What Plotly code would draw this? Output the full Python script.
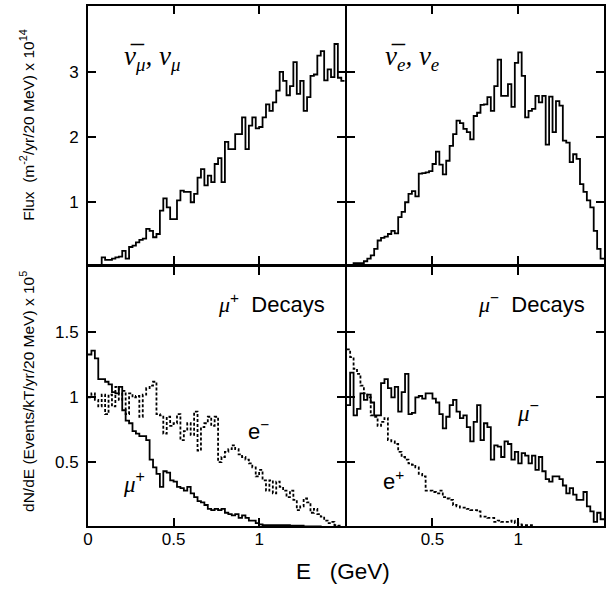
import plotly.graph_objects as go

# ---------------- data (20 MeV bins, 0 - 1.5 GeV) ----------------
bin_width = 0.02
n_bins = 75

numu_flux = [0.02,0.02,0.02,0.02,0.14,0.10,0.10,0.12,0.14,0.15,
             0.24,0.12,0.30,0.32,0.37,0.41,0.43,0.58,0.55,0.45,
             0.50,0.86,1.05,0.91,0.73,0.73,1.02,1.17,1.15,1.15,
             0.99,1.12,1.37,1.50,1.25,1.40,1.30,1.58,1.67,1.30,
             1.92,1.81,1.81,2.04,2.04,2.30,1.81,2.17,2.30,2.13,
             2.15,2.30,2.50,2.40,2.53,2.71,3.00,2.86,2.64,2.78,
             3.15,2.66,2.86,2.40,2.61,2.94,2.96,3.25,3.32,2.87,
             3.04,2.92,3.43,2.91,2.86]

nue_flux = [0.02,0.02,0.05,0.05,0.05,0.08,0.12,0.17,0.27,0.40,
            0.44,0.46,0.50,0.55,0.51,0.76,0.84,0.99,1.12,1.16,
            1.08,1.43,1.44,1.45,1.47,1.58,1.77,1.57,1.42,1.63,
            1.86,2.04,2.25,2.21,2.12,2.07,1.96,2.32,2.37,2.49,
            2.50,2.61,2.40,2.78,3.19,2.63,2.63,2.81,2.46,3.14,
            3.30,2.94,2.30,2.40,2.43,2.63,2.53,2.63,1.88,2.62,
            2.07,2.55,2.48,1.94,1.91,1.61,1.73,1.66,1.27,1.15,
            1.02,0.91,0.55,0.27,0.12]

mup_events = [1.33,1.36,1.30,1.14,1.14,1.12,1.10,1.04,1.03,1.08,
              0.90,0.82,0.80,0.74,0.72,0.70,0.70,0.67,0.52,0.46,
              0.41,0.31,0.43,0.42,0.36,0.35,0.31,0.30,0.28,0.31,
              0.26,0.23,0.20,0.19,0.17,0.14,0.13,0.14,0.13,0.14,
              0.11,0.10,0.09,0.10,0.07,0.09,0.07,0.05,0.05,0.03,
              0.02,0.015,0.015,0.015,0.015,0.015,0.015,0.015,0.015,0.01,
              0.01,0.01,0.01,0.005,0.005,0.005,0.005,0.005,0.0,0.0,
              0.0,0.0,0.0,0.0,0.0]

em_events = [1.00,1.03,0.98,0.93,1.02,0.87,1.02,0.93,1.08,0.98,
             1.05,0.87,1.03,1.00,1.01,0.85,1.02,1.07,1.09,1.12,
             0.87,0.86,0.72,0.85,0.78,0.80,0.87,0.67,0.74,0.80,
             0.71,0.89,0.59,0.77,0.80,0.85,0.78,0.85,0.50,0.54,
             0.58,0.60,0.63,0.60,0.56,0.54,0.52,0.49,0.46,0.39,
             0.44,0.36,0.28,0.36,0.26,0.35,0.31,0.28,0.23,0.28,
             0.21,0.13,0.16,0.22,0.19,0.11,0.14,0.10,0.08,0.05,
             0.03,0.04,0.015,0.01,0.0]

mum_events = [0.94,1.19,0.86,0.91,1.03,0.98,1.02,0.96,0.86,0.86,
              1.11,1.14,1.07,1.00,1.08,0.89,1.04,1.18,0.87,0.88,
              1.00,1.01,0.99,1.03,1.03,0.99,0.96,0.87,0.76,0.85,
              0.94,0.98,0.89,0.84,0.86,0.77,0.66,0.81,0.94,0.67,
              0.80,0.77,0.52,0.63,0.62,0.54,0.66,0.64,0.52,0.58,
              0.49,0.57,0.55,0.49,0.55,0.44,0.54,0.43,0.37,0.35,
              0.39,0.39,0.37,0.32,0.26,0.30,0.25,0.21,0.21,0.27,
              0.16,0.12,0.04,0.11,0.06]

ep_events = [1.37,1.31,1.22,1.18,1.09,1.03,1.00,0.86,0.85,0.78,
             0.81,0.84,0.67,0.66,0.64,0.58,0.54,0.52,0.49,0.48,
             0.46,0.41,0.39,0.28,0.28,0.27,0.26,0.28,0.23,0.22,
             0.21,0.17,0.16,0.15,0.15,0.14,0.13,0.13,0.12,0.08,
             0.08,0.07,0.07,0.04,0.05,0.04,0.04,0.04,0.05,0.03,
             0.02,0.015,0.015,0.015,0.0,0.0,0.0,0.0,0.0,0.0,
             0.0,0.0,0.0,0.0,0.0,0.0,0.0,0.0,0.0,0.0,
             0.0,0.0,0.0,0.0,0.0]

top_ticks = [1, 2, 3]
bottom_ticks = [0.5, 1, 1.5]
bottom_tick_text = ["0.5", "1", "1.5"]
x_ticks_left = [0, 0.5, 1]
x_tick_text_left = ["0", "0.5", "1"]
x_ticks_right = [0.5, 1]
x_tick_text_right = ["0.5", "1"]

edges = [i * bin_width for i in range(n_bins + 1)]


def step(vals):
    return list(vals) + [vals[-1]]


fig = go.Figure()

solid = dict(color="black", width=1.8)
dotted = dict(color="black", width=1.8, dash="3px,2px")

fig.add_trace(go.Scatter(x=edges, y=step(numu_flux), mode="lines", line_shape="hv",
                         line=solid, xaxis="x", yaxis="y", showlegend=False))
fig.add_trace(go.Scatter(x=edges, y=step(nue_flux), mode="lines", line_shape="hv",
                         line=solid, xaxis="x2", yaxis="y2", showlegend=False))
fig.add_trace(go.Scatter(x=edges, y=step(em_events), mode="lines", line_shape="hv",
                         line=dotted, xaxis="x3", yaxis="y3", showlegend=False))
fig.add_trace(go.Scatter(x=edges, y=step(mup_events), mode="lines", line_shape="hv",
                         line=solid, xaxis="x3", yaxis="y3", showlegend=False))
fig.add_trace(go.Scatter(x=edges, y=step(ep_events), mode="lines", line_shape="hv",
                         line=dotted, xaxis="x4", yaxis="y4", showlegend=False))
fig.add_trace(go.Scatter(x=edges, y=step(mum_events), mode="lines", line_shape="hv",
                         line=solid, xaxis="x4", yaxis="y4", showlegend=False))

tickfont = dict(family="Liberation Sans, Arial, sans-serif", size=17, color="black")
common = dict(showline=True, linewidth=2, linecolor="black", mirror="ticks",
              ticks="inside", ticklen=8, tickwidth=1.5, tickcolor="black",
              showgrid=False, zeroline=False, tickfont=tickfont, fixedrange=True)

xr = [0, 1.5]
yr_top = [0.031, 4.016]
yr_bot = [0.008, 2.008]
xl = [0, 0.4975]
xrd = [0.5014, 1]
yb = [0, 0.499]
yt = [0.503, 1]

fig.update_layout(
    width=610, height=589,
    margin=dict(l=88, r=4, t=5, b=63),
    paper_bgcolor="white", plot_bgcolor="white",
    xaxis=dict(domain=xl, anchor="y", range=xr, tickvals=x_ticks_left,
               showticklabels=False, **common),
    yaxis=dict(domain=yt, anchor="x", range=yr_top, tickvals=top_ticks,
               ticklabelstandoff=4, **common),
    xaxis2=dict(domain=xrd, anchor="y2", range=xr, tickvals=x_ticks_right,
                showticklabels=False, **common),
    yaxis2=dict(domain=yt, anchor="x2", range=yr_top, tickvals=top_ticks,
                showticklabels=False, **common),
    xaxis3=dict(domain=xl, anchor="y3", range=xr, tickvals=x_ticks_left,
                ticktext=x_tick_text_left, ticklabelstandoff=-3, **common),
    yaxis3=dict(domain=yb, anchor="x3", range=yr_bot, tickvals=bottom_ticks,
                ticktext=bottom_tick_text, ticklabelstandoff=4, **common),
    xaxis4=dict(domain=xrd, anchor="y4", range=xr, tickvals=x_ticks_right,
                ticktext=x_tick_text_right, ticklabelstandoff=-3, **common),
    yaxis4=dict(domain=yb, anchor="x4", range=yr_bot, tickvals=bottom_ticks,
                showticklabels=False, **common),
)

serif = "Liberation Serif, Times New Roman, serif"
sans = "Liberation Sans, Arial, sans-serif"
greek = "<span style='font-family:%s'><i>%%s</i></span>" % serif

annotations = [
    dict(text="<i>\u03bd\u0305<sub>\u03bc</sub>, \u03bd<sub>\u03bc</sub></i>",
         x=0.20, y=3.21, xref="x", yref="y", xanchor="left", yanchor="middle",
         font=dict(family=serif, size=27, color="black")),
    dict(text="<i>\u03bd\u0305<sub>e</sub>, \u03bd<sub>e</sub></i>",
         x=0.21, y=3.21, xref="x2", yref="y2", xanchor="left", yanchor="middle",
         font=dict(family=serif, size=27, color="black")),
    dict(text=(greek % "\u03bc") + "<sup>+</sup>\u00a0\u00a0Decays",
         x=1.395, y=1.73, xref="x3", yref="y3", xanchor="right", yanchor="middle",
         font=dict(family=sans, size=22, color="black")),
    dict(text=(greek % "\u03bc") + "<sup>\u2212</sup>\u00a0\u00a0Decays",
         x=1.40, y=1.73, xref="x4", yref="y4", xanchor="right", yanchor="middle",
         font=dict(family=sans, size=22, color="black")),
    dict(text="e<sup>\u2212</sup>", x=0.994, y=0.746, xref="x3", yref="y3",
         xanchor="center", yanchor="middle", font=dict(family=sans, size=22, color="black")),
    dict(text=(greek % "\u03bc") + "<sup>+</sup>", x=0.267, y=0.346, xref="x3", yref="y3",
         xanchor="center", yanchor="middle", font=dict(family=sans, size=23, color="black")),
    dict(text=(greek % "\u03bc") + "<sup>\u2212</sup>", x=1.058, y=0.893, xref="x4", yref="y4",
         xanchor="center", yanchor="middle", font=dict(family=sans, size=23, color="black")),
    dict(text="e<sup>+</sup>", x=0.273, y=0.362, xref="x4", yref="y4",
         xanchor="center", yanchor="middle", font=dict(family=sans, size=22, color="black")),
    # axis titles
    dict(text="E\u00a0\u00a0\u00a0(GeV)", x=0.494, y=-0.087, xref="paper", yref="paper",
         xanchor="center", yanchor="middle",
         font=dict(family=sans, size=22.5, color="black")),
    dict(text="Flux\u00a0\u00a0(m<sup>-2</sup>/yr/20 MeV) x 10<sup>14</sup>",
         x=-0.118, y=0.77, xref="paper", yref="paper", textangle=-90,
         xanchor="center", yanchor="middle",
         font=dict(family=sans, size=15.5, color="black")),
    dict(text="dN/dE (Events/kT/yr/20 MeV) x 10<sup>5</sup>",
         x=-0.118, y=0.258, xref="paper", yref="paper", textangle=-90,
         xanchor="center", yanchor="middle",
         font=dict(family=sans, size=15.5, color="black")),
]
for a in annotations:
    a.setdefault("showarrow", False)
fig.update_layout(annotations=annotations)

fig.write_html("out.html")
